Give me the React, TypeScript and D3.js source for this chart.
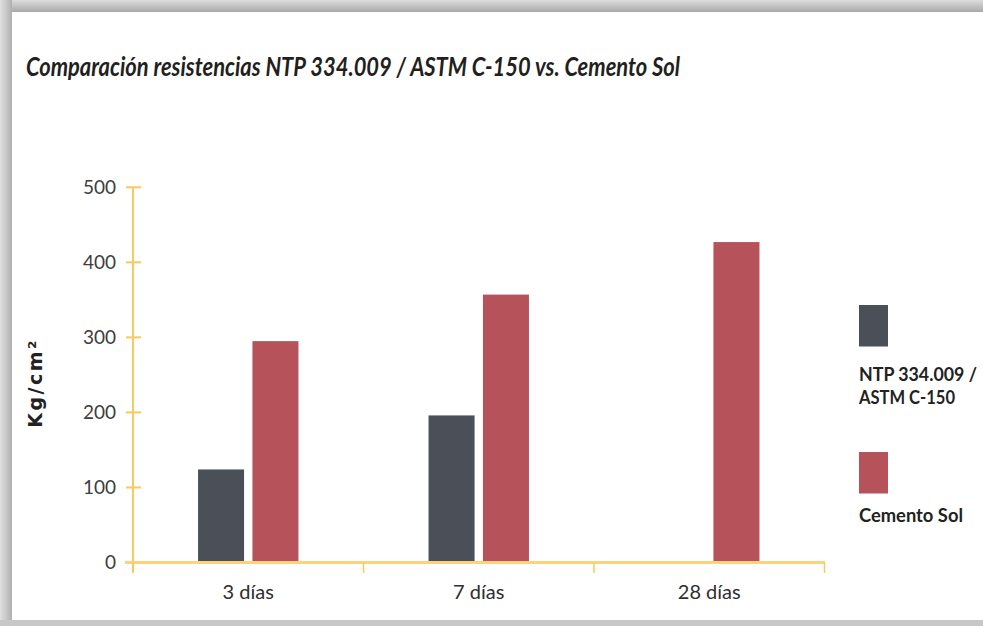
import React from 'react';
import * as d3 from 'd3';

const categories = ['3 días', '7 días', '28 días'];
const seriesNames = ['NTP 334.009 / ASTM C-150', 'Cemento Sol'];
const ntpValues: (number | null)[] = [124, 196, null];
const solValues: (number | null)[] = [295, 357, 427];
const yTicks = [0, 100, 200, 300, 400, 500];
const titleText = 'Comparación resistencias NTP 334.009 / ASTM C-150 vs. Cemento Sol';
const legendLines = [['NTP 334.009 /', 'ASTM C-150'], ['Cemento Sol']];

const W = 983;
const H = 626;
const colors = ['#4b4f57', '#b5525a'];
const axisColor = '#f8c95e';
const FONT = 'Lato, "Open Sans", sans-serif';

export default function App() {
  const x0 = d3.scaleBand<string>().domain(categories).range([133, 824.5]).padding(0);
  const bw = x0.bandwidth();
  const groupW = 100.4;
  const x1 = d3
    .scaleBand<string>()
    .domain(seriesNames)
    .range([(bw - groupW) / 2, (bw + groupW) / 2])
    .paddingInner(0.154)
    .paddingOuter(0);
  const y = d3.scaleLinear().domain([0, 500]).range([562.5, 187.3]);
  const series = [ntpValues, solValues];

  const boundaries = [...categories.map((c) => x0(c)!), 824.5];

  return (
    <svg width={W} height={H} style={{ position: 'absolute', left: 0, top: 0 }}>
      <defs>
        <linearGradient id="topG" x1="0" y1="0" x2="0" y2="1">
          <stop offset="0" stopColor="#dcdcdc" />
          <stop offset="1" stopColor="#a9a9a9" />
        </linearGradient>
        <linearGradient id="leftG" x1="0" y1="0" x2="1" y2="0">
          <stop offset="0" stopColor="#e0e0e0" />
          <stop offset="1" stopColor="#b0b0b0" />
        </linearGradient>
      </defs>
      <rect x={0} y={0} width={W} height={H} fill="#cfcfcf" />
      <rect x={0} y={0} width={W} height={12} fill="url(#topG)" />
      <rect x={0} y={0} width={12} height={H} fill="url(#leftG)" />
      <rect x={0} y={620} width={W} height={6} fill="#c8c8c8" />
      <rect x={12} y={12} width={W - 12} height={608} fill="#ffffff" />

      <text
        x={26}
        y={76}
        fontFamily={FONT}
        fontStyle="italic"
        fontWeight={700}
        fontSize={26}
        fill="#231f20"
        textLength={654}
        lengthAdjust="spacingAndGlyphs"
      >
        {titleText}
      </text>

      {/* bars */}
      {categories.map((c, i) => (
        <g key={c} transform={`translate(${x0(c)},0)`}>
          {series.map((vals, s) => {
            const v = vals[i];
            if (v == null) return null;
            return (
              <rect
                key={s}
                x={x1(seriesNames[s])}
                y={y(v)}
                width={x1.bandwidth()}
                height={y(0) - y(v)}
                fill={colors[s]}
              />
            );
          })}
        </g>
      ))}

      {/* y axis */}
      <line x1={133} x2={133} y1={y(500)} y2={573} stroke={axisColor} strokeWidth={2} />
      {yTicks.map((t) => (
        <g key={t}>
          <line x1={126} x2={141} y1={y(t)} y2={y(t)} stroke={axisColor} strokeWidth={2} />
          <text
            x={116}
            y={y(t)}
            dy="0.36em"
            textAnchor="end"
            fontFamily={FONT}
            fontSize={19}
            fill="#3d3d3d"
          >
            {t}
          </text>
        </g>
      ))}

      {/* x axis */}
      <line x1={125} x2={825} y1={y(0)} y2={y(0)} stroke="#fbd37c" strokeWidth={3} />
      {boundaries.map((b, i) => (
        <line key={i} x1={b} x2={b} y1={y(0)} y2={573} stroke={axisColor} strokeWidth={1.5} />
      ))}
      {categories.map((c) => (
        <text
          key={c}
          x={x0(c)! + bw / 2}
          y={599}
          textAnchor="middle"
          fontFamily={FONT}
          fontSize={20}
          fill="#2e2e2e"
        >
          {c}
        </text>
      ))}

      {/* y label */}
      <text
        transform="translate(42,383) rotate(-90)"
        textAnchor="middle"
        fontFamily='"DejaVu Sans", sans-serif'
        fontWeight={700}
        fontSize={19}
        letterSpacing={2.5}
        fill="#222"
      >
        Kg/cm²
      </text>

      {/* legend */}
      <rect x={859} y={305} width={29} height={41.5} fill={colors[0]} />
      <text x={859} y={381} fontFamily={FONT} fontWeight={700} fontSize={18} fill="#222" textLength={118} lengthAdjust="spacingAndGlyphs">
        {legendLines[0][0]}
      </text>
      <text x={859} y={404} fontFamily={FONT} fontWeight={700} fontSize={18} fill="#222" textLength={96} lengthAdjust="spacingAndGlyphs">
        {legendLines[0][1]}
      </text>
      <rect x={859} y={452} width={29} height={41.5} fill={colors[1]} />
      <text x={859} y={521.5} fontFamily={FONT} fontWeight={700} fontSize={18} fill="#222" textLength={104} lengthAdjust="spacingAndGlyphs">
        {legendLines[1][0]}
      </text>
    </svg>
  );
}
